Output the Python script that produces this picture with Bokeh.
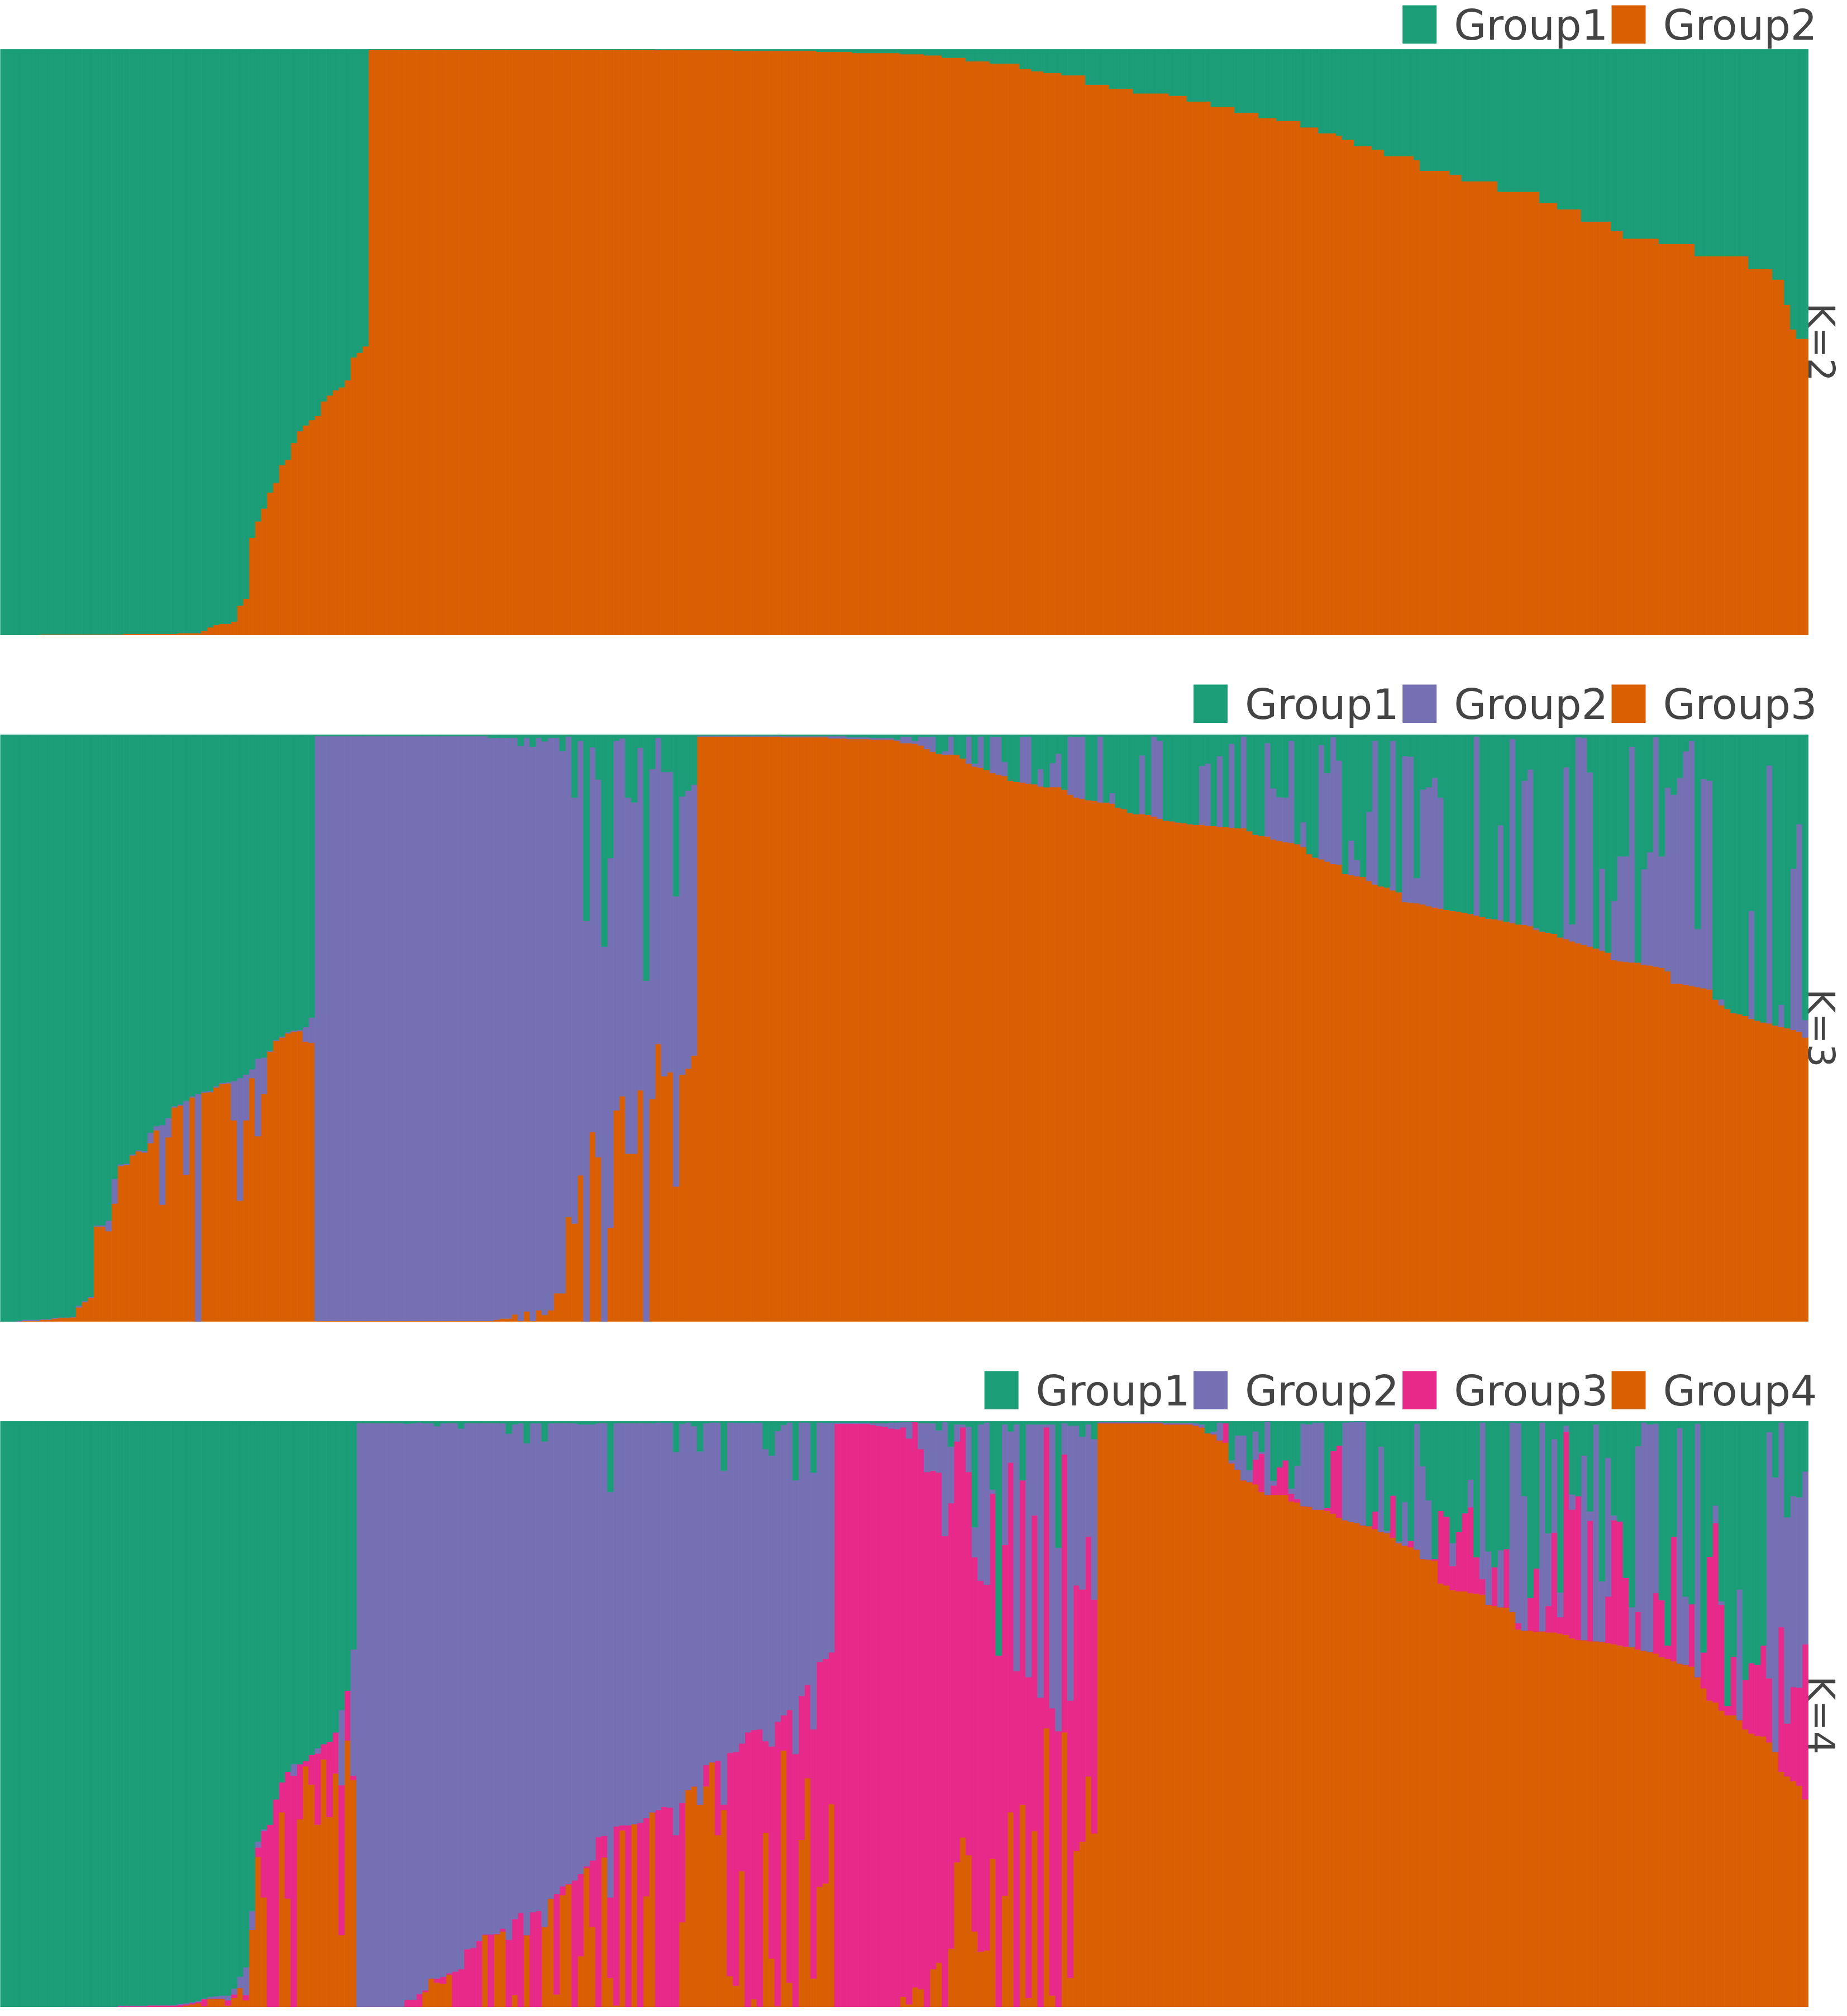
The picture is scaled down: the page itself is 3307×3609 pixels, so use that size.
import math
from bokeh.plotting import figure
from bokeh.models import Range1d, ColumnDataSource
from bokeh.core.properties import value
from bokeh.layouts import column
from bokeh.embed import file_html
from bokeh.resources import INLINE

GREEN = "#1b9e77"
PURPLE = "#7570b3"
PINK = "#e7298a"
ORANGE = "#d95f02"
TEXT = "#444444"

# ---------------- K=2 : share of Group2 (bottom, orange) per individual ----------------
k2_group2 = [
    0, 0, 0, 0, 0, 0, 0, .001, .001, .001,                       # 0
    .001, .001, .001, .001, .001, .001, .001, .001, .001, .001,  # 10
    .001, .002, .002, .002, .002, .002, .002, .002, .002, .002,  # 20
    .003, .003, .003, .003, .007, .013, .017, .019, .019, .023,  # 30
    .05, .062, .166, .194, .216, .243, .26, .29, .299, .328,     # 40
    .348, .358, .367, .374, .399, .409, .418, .423, .435, .474,  # 50
    .482, .493, 1, 1, 1, 1, 1, 1, 1, 1,                          # 60
    1, 1, 1, 1, 1, 1, 1, 1, 1, 1,                                # 70
    1, 1, 1, 1, 1, 1, 1, 1, 1, 1,                                # 80
    1, 1, 1, 1, 1, 1, 1, 1, 1, 1,                                # 90
    1, 1, 1, 1, 1, 1, 1, 1, 1, 1,                                # 100
    .999, .999, .999, .999, .999, .999, .999, .999, .999, .999,  # 110
    .999, .999, .999, .998, .998, .998, .998, .998, .998, .998,  # 120
    .998, .998, .998, .998, .998, .998, .998, .996, .996, .996,  # 130
    .996, .996, .996, .994, .994, .994, .994, .994, .994, .994,  # 140
    .994, .992, .992, .992, .992, .99, .99, .99, .986, .986,     # 150
    .986, .986, .98, .98, .98, .98, .976, .976, .976, .976,      # 160
    .976, .967, .967, .963, .963, .96, .96, .96, .956, .956,     # 170
    .956, .956, .94, .94, .94, .94, .933, .933, .933, .933,      # 180
    .925, .925, .925, .925, .925, .925, .921, .921, .921, .911,  # 190
    .911, .911, .911, .902, .902, .902, .902, .892, .892, .892,  # 200
    .892, .883, .883, .883, .878, .878, .878, .878, .867, .867,  # 210
    .867, .857, .857, .857, .853, .846, .846, .835, .835, .835,  # 220
    .829, .829, .818, .818, .818, .818, .818, .811, .793, .793,  # 230
    .793, .793, .793, .786, .786, .775, .775, .775, .775, .775,  # 240
    .775, .757, .757, .757, .757, .757, .757, .757, .738, .738,  # 250
    .738, .727, .727, .727, .727, .706, .706, .706, .706, .706,  # 260
    .69, .69, .677, .677, .677, .677, .677, .677, .668, .668,    # 270
    .668, .668, .668, .668, .647, .647, .647, .647, .647, .647,  # 280
    .647, .647, .647, .625, .625, .625, .625, .607, .607, .564,  # 290
    .522, .506, .506,                                            # 300
]

# ---------------- K=3 : Group3 (orange, bottom) and Group2 (purple, middle) ----------------
k3_group3 = [
    0, 0, 0, 0, .001, .001, .001, .003, .003, .005,              # 0
    .006, .006, .007, .024, .033, .04, .162, .162, .154, .201,   # 10
    .265, .267, .283, .29, .288, .304, .326, .199, .314, .365,   # 20
    .368, .25, .382, 0, .39, .391, .399, .405, .406, .343,       # 30
    .206, .343, .415, .316, .388, .46, .478, .484, .491, .494,   # 40
    .495, .477, .475, .001, .001, .001, .001, .001, .001, .001,  # 50
    .001, .001, .001, .001, .001, .001, .001, .001, .001, .001,  # 60
    .001, .001, .001, .001, .001, .001, .001, .001, .001, .001,  # 70
    .001, .001, .001, .003, .005, .005, .012, .001, .017, .001,  # 80
    .019, .011, .019, .048, .048, .178, .167, .249, 0, .323,     # 90
    .28, 0, .16, .36, .384, .286, .286, .394, 0, .379,           # 100
    .473, .418, .425, .23, .421, .431, .453, .997, .997, .997,   # 110
    .997, .997, .997, .997, .997, .997, .997, .997, .997, .997,  # 120
    .997, .996, .996, .996, .996, .996, .996, .996, .996, .994,  # 130
    .994, .994, .993, .993, .993, .993, .992, .992, .992, .992,  # 140
    .99, .986, .986, .985, .982, .976, .971, .968, .966, .966,   # 150
    .966, .96, .951, .946, .944, .94, .935, .932, .93, .922,     # 160
    .92, .919, .917, .916, .912, .911, .911, .911, .907, .898,   # 170
    .893, .891, .889, .888, .885, .885, .883, .876, .874, .867,  # 180
    .865, .865, .864, .861, .857, .854, .853, .851, .85, .848,   # 190
    .847, .847, .845, .845, .843, .843, .842, .841, .841, .836,  # 200
    .83, .828, .827, .822, .819, .817, .816, .814, .809, .797,   # 210
    .791, .788, .784, .78, .779, .763, .761, .759, .758, .751,   # 220
    .745, .742, .74, .735, .732, .715, .714, .713, .711, .708,   # 230
    .706, .704, .702, .7, .699, .697, .695, .692, .69, .687,     # 240
    .686, .684, .682, .679, .677, .676, .674, .668, .665, .663,  # 250
    .661, .655, .652, .648, .645, .642, .639, .636, .632, .629,  # 260
    .616, .614, .613, .612, .612, .608, .607, .605, .603, .597,  # 270
    .576, .576, .574, .572, .57, .568, .566, .549, .539, .533,   # 280
    .526, .524, .521, .516, .513, .51, .508, .505, .502, .5,     # 290
    .497, .494, .484,                                            # 300
]
k3_group2 = [
    0, 0, 0, .001, .002, .002, .002, .001, .001, .001,           # 0
    .001, .001, .001, .003, .002, .002, .002, .002, .018, .042,  # 10
    .003, .002, .002, .002, .003, .018, .007, .136, .033, .002,  # 20
    .002, .126, .002, .388, .002, .002, .002, .002, .002, .067,  # 30
    .209, .078, .015, .132, .062, .002, .002, .002, .002, .002,  # 40
    .002, .025, .043, .997, .997, .997, .997, .997, .997, .997,  # 50
    .997, .997, .997, .997, .997, .997, .997, .997, .997, .997,  # 60
    .997, .997, .997, .997, .997, .997, .997, .997, .997, .997,  # 70
    .997, .997, .994, .992, .99, .99, .983, .98, .978, .979,     # 80
    .976, .978, .976, .947, .925, .819, .726, .741, .683, .656,  # 90
    .644, .639, .63, .63, .61, .607, .599, .584, .581, .563,     # 100
    .522, .519, .512, .495, .474, .474, .462, .002, .002, .002,  # 110
    .002, .002, .002, .002, .002, .002, .002, .002, .002, .002,  # 120
    .002, .002, .002, .002, .002, .002, .002, .002, .002, .004,  # 130
    .004, .004, .003, .003, .003, .003, .003, .003, .003, .003,  # 140
    .002, .011, .011, .005, .015, .021, .026, 0, .006, .031,     # 150
    0, 0, .046, .005, .053, 0, .062, .065, .024, 0,              # 160
    0, .078, .08, 0, .03, 0, .041, .057, 0, .099,                # 170
    .104, .106, 0, 0, .112, 0, .018, 0, 0, 0,                    # 180
    0, .1, 0, .136, .133, 0, 0, 0, 0, 0,                         # 190
    0, .1, .106, 0, .121, 0, .143, 0, .156, 0,                   # 200
    0, 0, .159, .087, .075, .076, .174, 0, .042, 0,              # 210
    0, .195, .151, .216, .177, 0, .059, .028, 0, .118,           # 220
    .245, 0, 0, .255, 0, .249, .249, .043, .196, .203,           # 230
    .221, .189, 0, 0, 0, 0, 0, .305, 0, 0,                       # 240
    0, .162, 0, .314, 0, .246, .267, .003, 0, 0,                 # 250
    0, 0, .293, .029, .351, .353, .297, 0, .14, 0,               # 260
    .101, .179, .18, .368, 0, .163, .193, .391, .19, .313,       # 270
    .322, .351, .398, .418, .099, .357, .356, 0, .01, 0,         # 280
    0, 0, 0, .184, 0, 0, .44, 0, .038, 0,                        # 290
    .275, .354, .03,                                             # 300
]

# ---------------- K=4 : Group4 (orange), Group3 (pink), Group2 (purple) ----------------
k4_group4 = [
    .001, .001, .001, .001, .001, .001, .001, .001, .001, .001,  # 0
    .002, .002, .002, .002, .002, .002, .002, .002, .002, .002,  # 10
    .003, .003, .003, .003, .003, .004, .004, .004, .004, .004,  # 20
    .004, .006, .008, .01, .005, .017, .017, .017, .006, .019,   # 30
    .036, .015, .135, .259, .19, 0, 0, .335, .188, 0,            # 40
    .323, .413, .382, .314, .425, .327, .401, .126, .457, .39,   # 50
    .001, .002, .002, .002, .002, .002, .002, .002, .003, .003,  # 60
    .004, .029, .052, .045, .043, .058, 0, 0, 0, .003,           # 70
    0, .126, 0, .127, .132, 0, .024, 0, .126, .003,              # 80
    0, .14, .188, .025, .194, .212, 0, .09, .24, .14,            # 90
    0, .258, .053, .006, .304, 0, .315, .003, .192, .335,        # 100
    0, 0, .001, 0, .148, .373, .379, .348, .379, .42,            # 110
    .296, .339, .056, .04, .235, 0, .017, .004, .3, .086,        # 120
    .005, .44, .045, .003, .288, .393, .052, .208, .214, .349,   # 130
    .002, .002, .002, .002, .002, .002, .002, .002, .003, .003,  # 140
    .004, .021, .008, .037, .034, 0, .068, .079, 0, .103,        # 150
    .25, .292, .262, .132, .098, .1, .256, 0, .193, .335,        # 160
    0, .348, .019, .303, 0, .478, .023, 0, .471, .053,           # 170
    .269, .285, .396, .299, .997, .997, .997, .997, .997, .997,  # 180
    .997, .997, .997, .997, .997, .995, .995, .995, .995, .995,  # 190
    .993, .99, .98, .978, .968, .964, .929, .918, .9, .897,      # 200
    .893, .88, .875, .875, .875, .875, .864, .862, .856, .855,   # 210
    .85, .85, .848, .843, .836, .832, .829, .827, .823, .822,    # 220
    .817, .812, .81, .802, .793, .789, .786, .782, .766, .765,   # 230
    .763, .724, .721, .713, .711, .711, .708, .707, .705, .688,  # 240
    .686, .684, .683, .676, .646, .644, .644, .642, .643, .641,  # 250
    .641, .639, .637, .631, .628, .628, .626, .626, .625, .623,  # 260
    .621, .619, .617, .616, .612, .61, .608, .605, .599, .596,   # 270
    .592, .588, .586, .583, .565, .546, .525, .522, .508, .5,    # 280
    .5, .492, .476, .469, .465, .464, .454, .438, .404, .396,    # 290
    .388, .38, .357,                                             # 300
]
k4_group3 = [
    .001, .001, .001, .001, .001, .001, .001, .001, .001, .001,  # 0
    .002, .002, .002, .002, .002, .002, .002, .002, .002, .002,  # 10
    .002, .002, .002, .002, .002, .002, .002, .002, .002, .002,  # 20
    .003, .002, .002, .002, .012, .001, .001, .001, .009, .006,  # 30
    0, .009, 0, .016, .113, .314, .357, .051, .216, .397,        # 40
    .094, .009, .051, .121, .026, .128, .07, .255, .085, .007,   # 50
    .001, .002, .002, .002, .002, .002, .002, .002, .013, .013,  # 60
    .022, .003, 0, .007, .012, .003, .064, .068, .102, .101,     # 70
    .116, .001, .127, .001, .005, .118, .129, .164, 0, .162,     # 80
    .167, 0, 0, .171, .015, .001, .219, .14, .003, .113,         # 90
    .293, .037, .137, .305, .009, .313, 0, .314, .133, 0,        # 100
    .339, .344, .342, .296, .203, 0, 0, 0, .036, 0,              # 110
    .127, .009, .38, .398, .217, .471, .458, .472, .156, .361,   # 120
    .484, .06, .464, .431, .245, .159, .424, .383, .382, .258,   # 130
    .994, .994, .994, .994, .994, .994, .992, .99, .988, .985,   # 140
    .983, .969, .963, .962, .919, .914, .848, .834, .805, .758,  # 150
    .716, .698, .652, .637, .631, .622, .621, .602, .597, .595,  # 160
    .575, .552, .546, .537, .53, .512, .489, .473, .473, .472,   # 170
    .452, .429, .408, .398, 0, 0, 0, 0, 0, 0,                    # 180
    0, 0, 0, 0, 0, 0, 0, 0, 0, 0,                                # 190
    0, 0, 0, 0, 0, .033, 0, 0, 0, 0,                             # 200
    .042, .065, 0, .016, .047, .059, .013, .006, 0, 0,           # 210
    0, 0, .005, .107, .123, 0, 0, 0, 0, 0,                       # 220
    .03, 0, 0, .072, 0, 0, .011, 0, 0, 0,                        # 230
    .003, .124, .117, .041, .101, .133, .146, .062, .027, 0,     # 240
    .066, 0, .1, 0, .011, 0, .056, .108, 0, .045,                # 250
    .17, .028, .345, .219, .245, 0, .205, 0, 0, .079,            # 260
    .211, .211, .117, 0, .064, 0, 0, .103, .097, .023,           # 270
    .212, 0, 0, .106, 0, .061, .245, .305, .18, .016,            # 280
    .1, 0, .084, .12, .121, .155, .109, 0, .246, .09,            # 290
    .16, .167, .264,                                             # 300
]
k4_group2 = [
    0, 0, 0, 0, 0, 0, 0, 0, 0, 0,                                # 0
    0, 0, 0, 0, 0, 0, 0, 0, 0, 0,                                # 10
    .001, .001, .001, .001, .001, .001, .001, .001, .001, .001,  # 20
    .002, .002, .002, .002, .001, .003, .004, .005, .008, .01,   # 30
    .019, .047, .032, .01, .003, 0, 0, 0, 0, .02,                # 40
    0, 0, 0, .009, 0, 0, 0, .128, 0, .215,                       # 50
    .995, .993, .993, .993, .993, .993, .993, .993, .98, .981,   # 60
    .972, .965, .945, .94, .942, .936, .933, .92, .895, .893,    # 70
    .881, .87, .87, .869, .86, .861, .842, .833, .837, .832,     # 80
    .83, .826, .809, .801, .788, .784, .778, .765, .752, .742,   # 90
    .704, .702, .69, .686, .684, .684, .682, .68, .672, .662,    # 100
    .659, .654, .655, .652, .645, .625, .613, .601, .582, .578,  # 110
    .575, .568, .562, .56, .546, .527, .523, .522, .497, .495,   # 120
    .495, .494, .489, .466, .465, .446, .437, .407, .402, .391,  # 130
    .002, .002, .002, .002, .002, .002, .003, .005, .006, .01,   # 140
    .011, .009, .028, 0, .044, .083, .081, .072, .194, .096,     # 150
    .029, .005, .077, .051, .266, .276, .007, 0, .205, .053,     # 160
    .42, 0, .43, .155, .465, .005, .483, .312, .053, .468,       # 170
    .272, .26, .191, .273, .002, .002, .002, .002, .002, .002,   # 180
    .002, .002, .002, .002, .002, .003, .003, .003, .003, .003,  # 190
    .004, .005, 0, .005, .03, 0, .005, .058, .076, .02,          # 200
    .048, .003, .125, .008, 0, 0, .009, .057, .14, .14,          # 210
    .148, .148, 0, 0, 0, .166, .17, .173, .177, 0,               # 220
    0, .145, .004, 0, .003, .074, 0, .214, .158, .101,           # 230
    0, 0, 0, .039, 0, 0, .047, 0, .266, .091,                    # 240
    0, .097, 0, .322, .34, .229, 0, 0, .355, .124,               # 250
    .159, .042, .011, .026, 0, .314, .016, .369, .103, .236,     # 260
    .008, 0, 0, .068, .282, .388, .387, .288, 0, 0,              # 270
    0, .401, .116, 0, .431, 0, 0, .03, .006, 0,                  # 280
    0, .222, 0, 0, 0, 0, .419, .467, .348, .351,                 # 290
    .325, .324, .294,                                            # 300
]

group_names = ["Group1", "Group2", "Group3", "Group4"]

N = len(k2_group2)
for lst in (k3_group3, k3_group2, k4_group4, k4_group3, k4_group2):
    assert len(lst) == N, len(lst)


def remainder(*cols):
    # the top cluster takes whatever share is left for each individual
    return [round(max(0.0, 1.0 - sum(v)), 4) for v in zip(*cols)]


k2_group1 = remainder(k2_group2)
k3_group1 = remainder(k3_group3, k3_group2)
k4_group1 = remainder(k4_group4, k4_group3, k4_group2)

# ---------------- layout (page pixels) ----------------
PAGE_LEFT = 8          # body margin
FIG_W = 3299
BAR_LEFT, BAR_RIGHT = 4, 3245     # horizontal extent of the bars on the page
SQ_W, SQ_H = 61, 68.5
ITEM_PITCH = 374.3
LAST_SQ_LEFT = 2893
TEXT_DX = 92
LEG_FONT = 75
K_FONT = 66
K_BASELINE_X = 3246
EM_SHIFT = 0.3406      # bokeh centres the em box on the anchor: baseline sits this far below


def make_panel(k, stacks, colors, fig_top, fig_h, area_top, area_bottom, legend_gap=0):
    ppu_x = (BAR_RIGHT - BAR_LEFT) / N
    x0 = -0.5 + (PAGE_LEFT - BAR_LEFT) / ppu_x
    x1 = x0 + FIG_W / ppu_x
    ppu_y = area_bottom - area_top
    y1 = 1 + (area_top - fig_top) / ppu_y
    y0 = -((fig_top + fig_h) - area_bottom) / ppu_y

    def X(px):
        return x0 + (px - PAGE_LEFT) / ppu_x

    def Y(py):
        return 1 - (py - area_top) / ppu_y

    p = figure(width=FIG_W, height=fig_h,
               x_range=Range1d(x0, x1), y_range=Range1d(y0, y1),
               toolbar_location=None, output_backend="svg",
               x_axis_location=None, y_axis_location=None,
               min_border=0, min_border_left=0, min_border_right=0,
               min_border_top=0, min_border_bottom=0,
               outline_line_color=None,
               background_fill_color="white", border_fill_color="white")
    p.grid.visible = False

    data = {"x": list(range(N))}
    keys = []
    for j, vals in enumerate(stacks):
        key = "s%d" % j
        data[key] = vals
        keys.append(key)
    src = ColumnDataSource(data)
    p.vbar_stack(keys, x="x", width=1.0, color=colors, line_width=0.8, source=src)

    # legend row (Group1 .. GroupK) above the bars, right aligned
    leg_colors = colors[::-1]
    sq_lefts = [LAST_SQ_LEFT - (k - 1 - j) * ITEM_PITCH for j in range(k)]
    p.rect(x=[X(s + SQ_W / 2) for s in sq_lefts],
           y=[Y(area_top - 55.7 + legend_gap)] * k,
           width=SQ_W / ppu_x, height=SQ_H / ppu_y,
           fill_color=leg_colors, line_color=None)
    baseline = area_top - 29 + legend_gap
    p.text(x=[X(s + TEXT_DX) for s in sq_lefts],
           y=[Y(baseline - EM_SHIFT * LEG_FONT)] * k,
           text=group_names[:k], text_font=value("DejaVu Sans"),
           text_font_size=value("%dpx" % LEG_FONT), text_color=TEXT,
           text_align="left", text_baseline="alphabetic")

    # K label on the right, reading downward
    p.text(x=[X(K_BASELINE_X + EM_SHIFT * K_FONT)], y=[0.5], text=["K=%d" % k],
           angle=-math.pi / 2,
           text_font=value("DejaVu Sans"), text_font_size=value("%dpx" % K_FONT),
           text_color=TEXT, text_align="center", text_baseline="alphabetic")
    return p


# figure boundaries chosen so every legend row sits wholly inside its own canvas
p1 = make_panel(2, [k2_group2, k2_group1], [ORANGE, GREEN],
                fig_top=8, fig_h=1210, area_top=96, area_bottom=1144, legend_gap=11)
p2 = make_panel(3, [k3_group3, k3_group2, k3_group1], [ORANGE, PURPLE, GREEN],
                fig_top=1218, fig_h=1228, area_top=1323, area_bottom=2373)
p3 = make_panel(4, [k4_group4, k4_group3, k4_group2, k4_group1], [ORANGE, PINK, PURPLE, GREEN],
                fig_top=2446, fig_h=1155, area_top=2552, area_bottom=3604)

layout = column(p1, p2, p3, spacing=0)

with open("out.html", "w") as f:
    f.write(file_html(layout, INLINE))
